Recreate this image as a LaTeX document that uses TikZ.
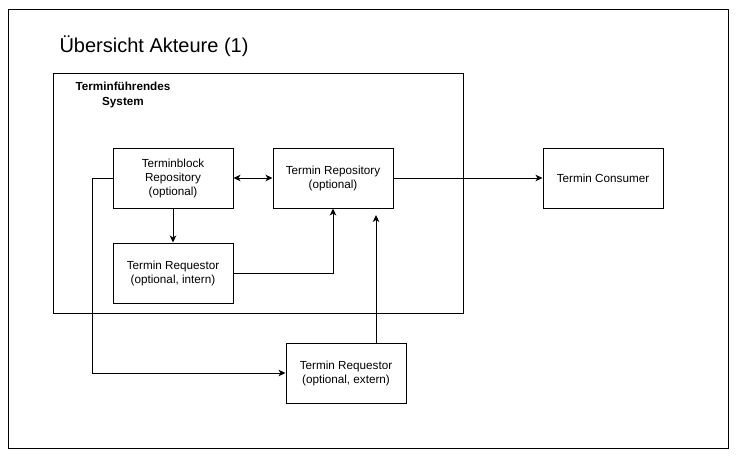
\documentclass[tikz,border=0pt]{standalone}
\usepackage{fontspec}
\setmainfont{Liberation Sans}
\usetikzlibrary{arrows.meta}
\begin{document}
\begin{tikzpicture}[x=1pt,y=-1pt,
  box/.style={draw,line width=1pt,minimum width=120pt,minimum height=60pt,align=center,
    font=\fontsize{11.7}{14}\selectfont,inner sep=0pt},
  frame/.style={draw,line width=1pt,inner sep=0pt},
  tip/.style={Stealth[length=7pt,width=6.5pt,inset=2pt]},
  conn/.style={line width=1pt,-{Stealth[length=7pt,width=6.5pt,inset=2pt]}},
  both/.style={line width=1pt,{Stealth[length=7pt,width=6.5pt,inset=2pt]}-{Stealth[length=7pt,width=6.5pt,inset=2pt]}},
]
\useasboundingbox (0,0) rectangle (736,455);
\node[frame,minimum width=720pt,minimum height=439pt] (outer) at (368,228.5) {};
\node[font=\fontsize{20}{24}\selectfont,inner sep=0pt] (title) at (154,46) {Übersicht Akteure (1)};
\node[frame,minimum width=410pt,minimum height=240pt] (sys) at (258,193) {};
\node[font=\bfseries\fontsize{11.7}{15}\selectfont,align=center,inner sep=0pt] (syslabel) at (123,95) {Terminführendes\\System};
\node[box] (tb) at (173,178) {Terminblock\\Repository\\(optional)};
\node[box] (tr) at (333,178) {Termin Repository\\(optional)};
\node[box] (ri) at (173,273) {Termin Requestor\\(optional, intern)};
\node[box] (tc) at (603,178) {Termin Consumer};
\node[box] (re) at (346,373) {Termin Requestor\\(optional, extern)};
\coordinate (reTip) at (376,215);
\draw[both] (tb.east) -- (tr.west);
\draw[conn] (tb.south) -- (ri.north);
\draw[conn] (ri.east) -| (tr.south);
\draw[conn] (tr.east) -- (tc.west);
\draw[conn] (re.north -| reTip) -- (reTip);
\draw[conn] (tb.west) -- ++(-20,0) |- (re.west);
\end{tikzpicture}
\end{document}
